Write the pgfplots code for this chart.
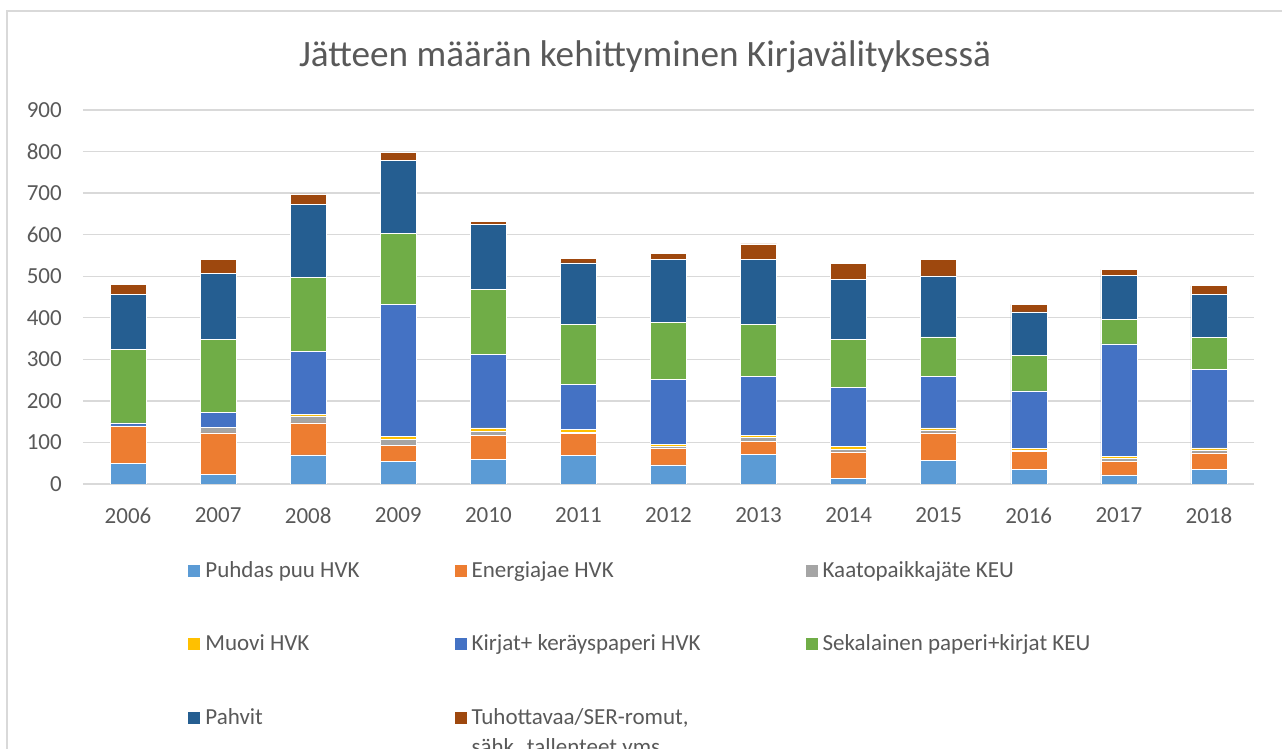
\documentclass[border=0pt]{standalone}
\usepackage{pgfplots}
\pgfplotsset{compat=1.18}
\usepackage{pgfplotstable}
\usepackage{fontspec}
\setmainfont{Carlito}

\definecolor{txt}{HTML}{595959}
\definecolor{gridc}{HTML}{D9D9D9}
\definecolor{cPuu}{HTML}{5B9BD5}
\definecolor{cEne}{HTML}{ED7D31}
\definecolor{cKaa}{HTML}{A5A5A5}
\definecolor{cMuo}{HTML}{FFC000}
\definecolor{cKir}{HTML}{4472C4}
\definecolor{cSek}{HTML}{70AD47}
\definecolor{cPah}{HTML}{255E91}
\definecolor{cTuh}{HTML}{9E480E}

% tonnia / vuosi, luettu kuvasta
\pgfplotstableread{
x year puu ene kaa muo kir sek pah tuh
0  2006 50 88  2 0   7 177 132 25
1  2007 24 99 14 0  36 175 158 35
2  2008 70 77 17 4 152 177 175 26
3  2009 54 39 14 8 317 172 174 20
4  2010 59 58 10 8 177 157 155  8
5  2011 69 52  4 7 107 145 148 10
6  2012 46 39  6 5 156 136 152 14
7  2013 71 32  9 5 141 126 156 38
8  2014 13 64  6 7 142 116 145 38
9  2015 56 67  7 5 123  96 147 39
10 2016 35 43  4 4 138  86 104 18
11 2017 22 32  7 5 271  60 105 14
12 2018 36 39  7 5 189  76 104 21
}\jate

\begin{document}
\begin{tikzpicture}
\clip (0,0) rectangle (641pt,374.5pt);
\path[use as bounding box] (0,0) rectangle (641pt,374.5pt);
\draw[gridc, line width=0.6pt] (3.5pt,-20pt) rectangle (660pt,369pt);
\node[anchor=base, text=txt, font=\fontsize{18.6}{22}\selectfont] at (322.5pt,341.2pt)
  {Jätteen määrän kehittyminen Kirjavälityksessä};
\begin{axis}[
  at={(41.5pt,132.5pt)}, anchor=south west,
  scale only axis, width=585.5pt, height=187pt,
  ybar stacked, bar width=18pt,
  xmin=-0.5, xmax=12.5, ymin=0, ymax=900,
  xtick=data,
  xticklabels={2006,2007,2008,2009,2010,2011,2012,2013,2014,2015,2016,2017,2018},
  ytick={0,100,...,900},
  axis line style={draw=none},
  major tick length=0pt,
  ymajorgrids, grid style={gridc, line width=0.7pt},
  tick label style={text=txt, font=\fontsize{11.5}{14}\selectfont},
  /pgf/number format/assume math mode=true,
  xticklabel style={yshift=-8.3pt},
  yticklabel style={xshift=-7.1pt},
  every axis plot/.append style={draw=white, line width=0.3pt},
  legend image code/.code={\fill[#1, draw=none] (0pt,-3pt) rectangle (6pt,3pt);},
  legend columns=3,
  legend cell align=left,
  legend style={at={(0.0897,-0.206)}, anchor=north west, draw=none, fill=none,
    inner sep=0pt, row sep=27.2pt, text=txt, font=\fontsize{11.5}{15}\selectfont,
    nodes={inner sep=0pt},
    /tikz/every odd column/.append style={column sep=2.5pt},
    /tikz/column 2/.style={text width=124.6pt, align=flush left},
    /tikz/column 4/.style={text width=167pt, align=flush left},
    /tikz/column 6/.style={text width=150pt, align=flush left}},
]
\addplot[fill=cPuu] table[x=x,y=puu]{\jate};
\addplot[fill=cEne] table[x=x,y=ene]{\jate};
\addplot[fill=cKaa] table[x=x,y=kaa]{\jate};
\addplot[fill=cMuo] table[x=x,y=muo]{\jate};
\addplot[fill=cKir] table[x=x,y=kir]{\jate};
\addplot[fill=cSek] table[x=x,y=sek]{\jate};
\addplot[fill=cPah] table[x=x,y=pah]{\jate};
\addplot[fill=cTuh] table[x=x,y=tuh]{\jate};
\legend{Puhdas puu HVK, Energiajae HVK, Kaatopaikkajäte KEU,
  Muovi HVK, Kirjat+ keräyspaperi HVK, Sekalainen paperi+kirjat KEU,
  Pahvit, {Tuhottavaa/SER-romut,\\sähk. tallenteet yms.}}
\end{axis}
\end{tikzpicture}
\end{document}
